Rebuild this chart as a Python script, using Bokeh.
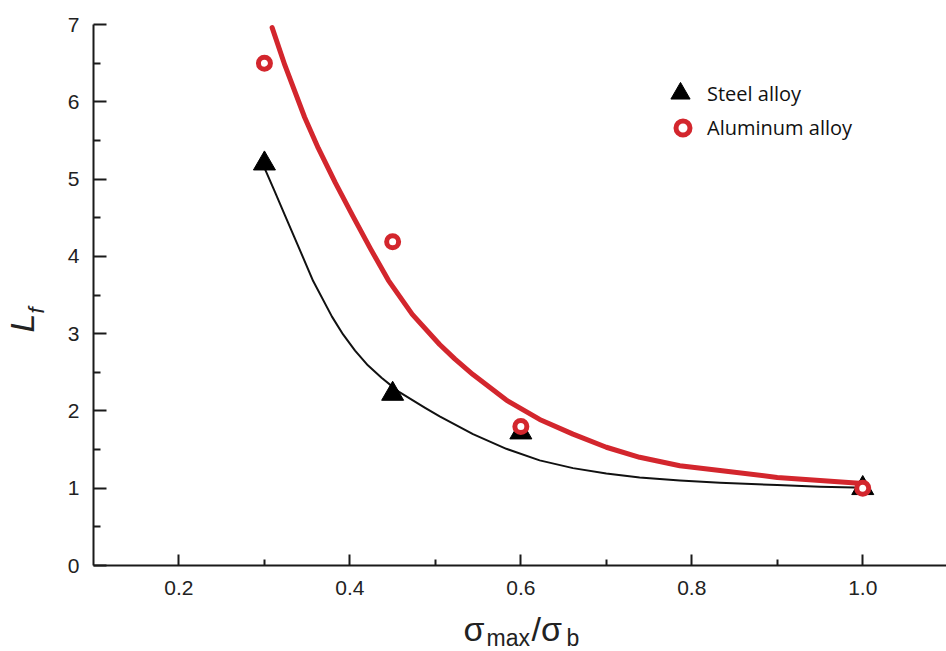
import math
from bokeh.plotting import figure
from bokeh.layouts import column, row
from bokeh.models import Range1d, FixedTicker, Label, Legend, LegendItem, PrintfTickFormatter
from bokeh.embed import file_html
from bokeh.resources import INLINE

# ---- data ----
stress_ratio = [0.30, 0.45, 0.60, 1.00]
steel_lf = [5.20, 2.22, 1.72, 1.00]
aluminum_lf = [6.50, 4.19, 1.80, 1.00]

# fitted curves, points
steel_fit_x = [0.299, 0.312, 0.324, 0.340, 0.357, 0.379, 0.392, 0.406, 0.421, 0.437,
               0.457, 0.488, 0.505, 0.544, 0.583, 0.622, 0.661, 0.700, 0.739, 0.786,
               0.833, 0.900, 0.950, 0.990]
steel_fit_y = [5.17, 4.84, 4.53, 4.12, 3.68, 3.22, 2.99, 2.78, 2.59, 2.43,
               2.25, 2.04, 1.93, 1.70, 1.51, 1.36, 1.26, 1.19, 1.14, 1.10,
               1.07, 1.04, 1.02, 1.01]

alu_fit_x = [0.309, 0.324, 0.347, 0.363, 0.383, 0.403, 0.424, 0.445, 0.473, 0.505,
             0.523, 0.544, 0.583, 0.622, 0.661, 0.700, 0.739, 0.786, 0.833, 0.900,
             0.950, 1.000]
alu_fit_y = [6.96, 6.47, 5.80, 5.40, 4.95, 4.53, 4.10, 3.69, 3.25, 2.86,
             2.67, 2.47, 2.14, 1.89, 1.70, 1.53, 1.40, 1.29, 1.23, 1.14,
             1.10, 1.06]

x_ticks = [0.2, 0.4, 0.6, 0.8, 1.0]
x_minor = [0.3, 0.5, 0.7, 0.9]
y_ticks = [0, 1, 2, 3, 4, 5, 6, 7]
y_minor = [0.5, 1.5, 2.5, 3.5, 4.5, 5.5, 6.5]

RED = "#d3262d"
FONT = "Liberation Sans"
TXT = "#222222"

p = figure(width=896, height=605, output_backend="svg", toolbar_location=None,
           x_range=Range1d(0.1, 1.098), y_range=Range1d(0, 7),
           min_border_left=43, min_border_right=0, min_border_top=24,
           min_border_bottom=40)
p.outline_line_color = None
p.grid.visible = False

for ax in (p.xaxis[0], p.yaxis[0]):
    ax.axis_line_width = 2
    ax.axis_line_color = "#1a1a1a"
    ax.major_tick_line_width = 2
    ax.minor_tick_line_width = 2
    ax.major_tick_line_color = "#1a1a1a"
    ax.minor_tick_line_color = "#1a1a1a"
    ax.major_tick_out = 0
    ax.minor_tick_out = 0
    ax.major_label_text_font = FONT
    ax.major_label_text_font_size = "21px"
    ax.major_label_text_color = TXT

p.xaxis.ticker = FixedTicker(ticks=x_ticks, minor_ticks=x_minor)
p.yaxis.ticker = FixedTicker(ticks=y_ticks, minor_ticks=y_minor)
p.xaxis.formatter = PrintfTickFormatter(format="%.1f")
p.xaxis.major_tick_in = 11
p.xaxis.minor_tick_in = 6
p.yaxis.major_tick_in = 13
p.yaxis.minor_tick_in = 7
p.xaxis.major_label_standoff = 15
p.yaxis.major_label_standoff = 14

p.line(steel_fit_x, steel_fit_y, line_color="#111111", line_width=2,
       line_cap="round", line_join="round")
p.line(alu_fit_x, alu_fit_y, line_color=RED, line_width=5,
       line_cap="round", line_join="round")

tri = p.scatter(stress_ratio, steel_lf, marker="triangle", size=22,
                fill_color="black", line_color="black")
circ = p.scatter(stress_ratio, aluminum_lf, marker="circle", size=12,
                 fill_color="white", line_color=RED, line_width=5)

leg1 = Legend(items=[LegendItem(label="Steel alloy", renderers=[tri])],
              location=(563, 448), padding=0, margin=0, spacing=0,
              glyph_width=48, glyph_height=48, label_standoff=3,
              label_text_font="Open Sans", label_text_font_size="20px",
              label_text_color="#111111",
              border_line_alpha=0, background_fill_alpha=0)
leg2 = Legend(items=[LegendItem(label="Aluminum alloy", renderers=[circ])],
              location=(572, 420), padding=0, margin=0, spacing=0,
              glyph_width=35, glyph_height=35, label_standoff=7,
              label_text_font="Open Sans", label_text_font_size="20px",
              label_text_color="#111111",
              border_line_alpha=0, background_fill_alpha=0)
p.add_layout(leg1)
p.add_layout(leg2)


def blank(w, h, top=0, bottom=0):
    f = figure(width=w, height=h, output_backend="svg", toolbar_location=None,
               x_range=Range1d(0, w), y_range=Range1d(0, h - top - bottom),
               x_axis_location=None, y_axis_location=None,
               min_border_left=0, min_border_right=0,
               min_border_top=top, min_border_bottom=bottom)
    f.outline_line_color = None
    f.grid.visible = False
    return f


def lab(fig, txt, x, y, size, style="normal", angle=0):
    fig.add_layout(Label(x=x, y=y, x_units="screen", y_units="screen", text=txt,
                         angle=angle, text_font=FONT, text_font_size=size,
                         text_font_style=style, text_color=TXT,
                         text_align="left", text_baseline="alphabetic"))


# y-axis title  L_f  (frame aligned with the main plot frame)
ylab = blank(50, 605, top=24, bottom=40)
lab(ylab, "L", 21, 233, "34px", "italic", math.pi / 2)
lab(ylab, "f", 36, 252, "22px", "italic", math.pi / 2)

# x-axis title  sigma_max / sigma_b
xlab = blank(946, 46)
lab(xlab, "\u03c3", 463, 23, "34px")
lab(xlab, "max", 486, 14, "23px")
lab(xlab, "/\u03c3", 531, 23, "34px")
lab(xlab, "b", 566, 14, "23px")

layout = column(row(ylab, p), xlab)

open("out.html", "w").write(file_html(layout, INLINE))
